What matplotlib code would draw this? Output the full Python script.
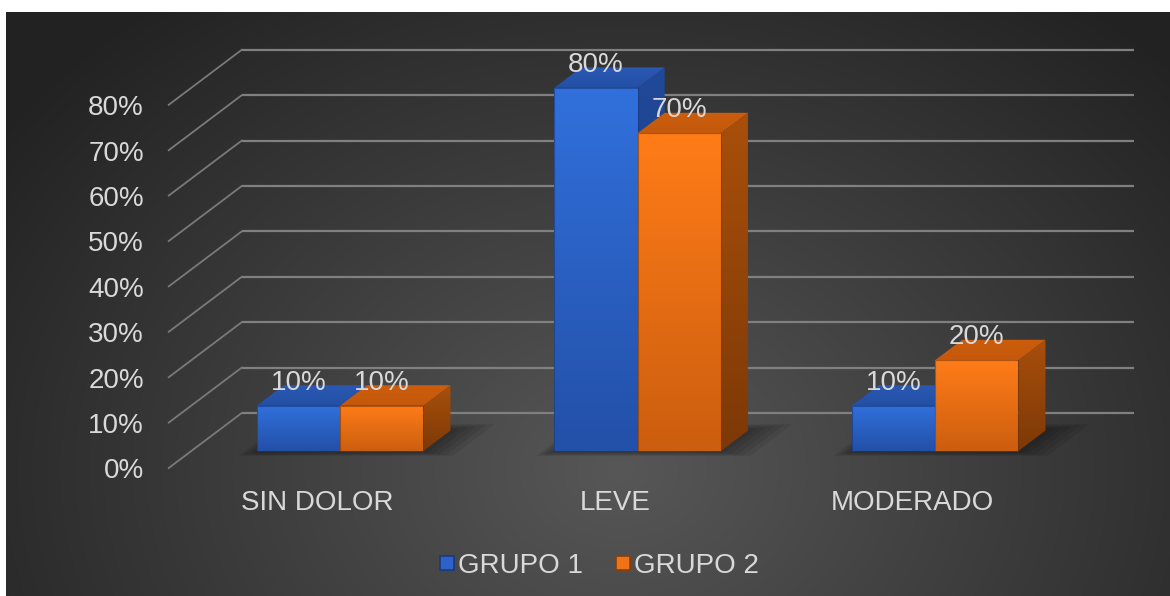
import matplotlib.pyplot as plt
import numpy as np
from matplotlib.patches import Polygon
from matplotlib.lines import Line2D
from matplotlib.colors import to_rgb

categories = ['SIN DOLOR', 'LEVE', 'MODERADO']
series_names = ['GRUPO 1', 'GRUPO 2']
grupo1 = [10, 80, 10]
grupo2 = [10, 70, 20]
y_ticks = [0, 10, 20, 30, 40, 50, 60, 70, 80]

W, H = 1170, 596
PX_CAT = 297.5          #pixels between categories
PX_PCT = 4.54           #pixels per percent
X0, Y0 = 317.5, 468     #front edge of floor: first category, 0%
DEPTH_PX = (73, 55)     #oblique shift of the full floor depth

ddx = DEPTH_PX[0] / PX_CAT
ddv = DEPTH_PX[1] / PX_PCT


def proj(x, v, d):
    #oblique projection: category position, value and depth -> 2d data coords
    return (x + d * ddx, v + d * ddv)


TEXT = '#d9d9d9'
FONT = 'Liberation Sans'
plt.rcParams['font.family'] = [FONT, 'DejaVu Sans']

fig = plt.figure(figsize=(W / 100, H / 100), dpi=100, facecolor='white')

#dark radial background
bg = fig.add_axes([6 / W, 0, 1 - 6 / W, 1 - 12 / H])
yy, xx = np.mgrid[12:H, 6:W]
r = np.sqrt(((xx - 620) / 760) ** 2 + ((yy - 470) / 600) ** 2).clip(0, 1)
c = (0x57 - r * (0x57 - 0x22)) / 255
bg.imshow(np.dstack([c, c, c]), aspect='auto', extent=(0, 1, 0, 1))
bg.axis('off')

ax = fig.add_axes([0, 0, 1, 1])
ax.patch.set_alpha(0)
ax.axis('off')

x_lo, x_hi = -0.5, 2.5

#back wall gridlines and the diagonals of the side wall
for v in y_ticks:
    bx0, bv = proj(x_lo, v, 1)
    bx1, _ = proj(x_hi, v, 1)
    ax.plot([bx0, bx1], [bv, bv], color='#808080', lw=1.6, zorder=1, solid_capstyle='butt')
    fx, fv = proj(x_lo, v, 0)
    ax.plot([fx, bx0], [fv, bv], color='#7a7a7a', lw=1.3, zorder=1)
    ax.annotate(f'{v}%', xy=(fx, fv), xytext=(-18, -2.5), textcoords='offset points',
                ha='right', va='center', color=TEXT, fontsize=20)


def face(pts, top_color, bottom_color, zorder):
    poly = Polygon(pts, closed=True, facecolor='none', edgecolor='none')
    ax.add_patch(poly)
    xs, vs = zip(*pts)
    t = np.linspace(0, 1, 64)[:, None, None]
    img = np.array(to_rgb(top_color)) * (1 - t) + np.array(to_rgb(bottom_color)) * t
    im = ax.imshow(img, extent=(min(xs), max(xs), min(vs), max(vs)), origin='upper',
                   aspect='auto', interpolation='bilinear', zorder=zorder)
    im.set_clip_path(poly)


bar_w = 0.28
d0, d1 = 0.31, 0.68
styles = [
    {'front': ('#3170dc', '#2350a8'), 'top': ('#2a58b4', '#2350a4'),
     'side': ('#21499a', '#183a7a'), 'legend': ('#2f62c8', '#173a80')},
    {'front': ('#ff7c18', '#cc5e0f'), 'top': ('#cc5d0d', '#c4580b'),
     'side': ('#a94f0b', '#7d3907'), 'legend': ('#f07318', '#8a3f08')},
]

z = 3
for i, cat in enumerate(categories):
    left = i - bar_w
    right = i + bar_w
    #soft shadow on the floor
    for k in range(5):
        e = 0.01 * k
        pts = [proj(left - e, 0, d0 - 0.03 - 0.015 * k), proj(right + 0.02 + e * 2.5, 0, d0 - 0.03 - 0.015 * k),
               proj(right + 0.02 + e * 2.5, 0, d1 + 0.04 + 0.02 * k), proj(left - e, 0, d1 + 0.04 + 0.02 * k)]
        ax.add_patch(Polygon(pts, closed=True, facecolor='black', edgecolor='none', alpha=0.075, zorder=2))

    for s, vals in enumerate([grupo1, grupo2]):
        v = vals[i]
        xa = i - bar_w + s * bar_w
        xb = xa + bar_w
        st = styles[s]
        side = [proj(xb, 0, d0), proj(xb, 0, d1), proj(xb, v, d1), proj(xb, v, d0)]
        top = [proj(xa, v, d0), proj(xb, v, d0), proj(xb, v, d1), proj(xa, v, d1)]
        front = [proj(xa, 0, d0), proj(xb, 0, d0), proj(xb, v, d0), proj(xa, v, d0)]
        face(side, *st['side'], zorder=z)
        face(top, *st['top'], zorder=z + 0.1)
        face(front, *st['front'], zorder=z + 0.2)
        ax.add_patch(Polygon(front, closed=True, facecolor='none', edgecolor=st['side'][1],
                             lw=0.8, alpha=0.6, zorder=z + 0.3))
        z += 1
        lx, lv = proj((xa + xb) / 2, v, d0)
        ax.annotate(f'{v}%', xy=(lx, lv), xytext=(0, 16.5), textcoords='offset points',
                    ha='center', va='center', color=TEXT, fontsize=20, zorder=20)

    cx, cv = proj(i, 0, 0)
    ax.annotate(cat, xy=(cx, cv), xytext=(0, -25.5), textcoords='offset points',
                ha='center', va='center', color=TEXT, fontsize=20)

handles = [Line2D([], [], marker='s', ls='none', markersize=10.5,
                  markerfacecolor=st['legend'][0], markeredgecolor=st['legend'][1], markeredgewidth=1.2)
           for st in styles]
leg = ax.legend(handles, series_names, loc='center', bbox_to_anchor=(598 / W, 1 - 566 / H),
                ncol=2, frameon=False, fontsize=20, labelcolor=TEXT, handletextpad=0.05,
                handlelength=0.7, columnspacing=1.1, borderpad=0)

ax.set_xlim(-X0 / PX_CAT, (W - X0) / PX_CAT)
ax.set_ylim((Y0 - H) / PX_PCT, Y0 / PX_PCT)

fig.savefig('out.png', dpi=100, facecolor='white')
